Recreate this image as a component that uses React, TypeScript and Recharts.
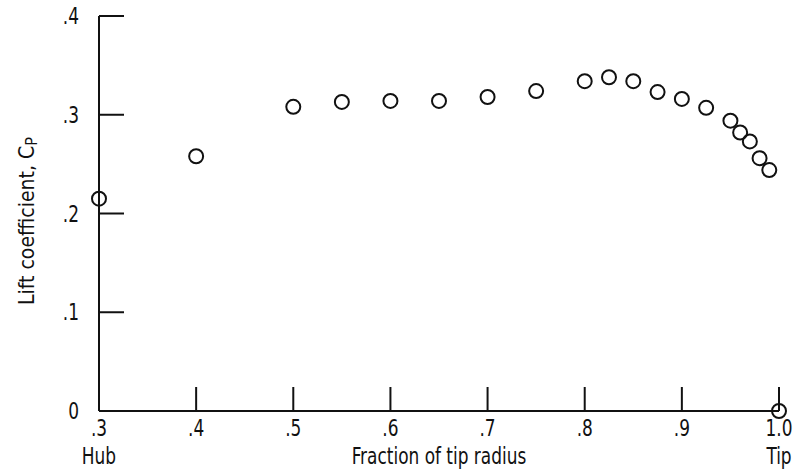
import { ScatterChart, Scatter, XAxis, YAxis, Label } from 'recharts';

// Lift coefficient along the blade span
const fractionOfTipRadius = [0.3, 0.4, 0.5, 0.55, 0.6, 0.65, 0.7, 0.75, 0.8, 0.825, 0.85, 0.875, 0.9, 0.925, 0.95, 0.96, 0.97, 0.98, 0.99, 1.0];
const liftCoefficient = [0.215, 0.258, 0.308, 0.313, 0.314, 0.314, 0.318, 0.324, 0.334, 0.338, 0.334, 0.323, 0.316, 0.307, 0.294, 0.282, 0.273, 0.256, 0.244, 0];

const xTicks = [0.3, 0.4, 0.5, 0.6, 0.7, 0.8, 0.9, 1.0];
const xTickLabels = ['.3', '.4', '.5', '.6', '.7', '.8', '.9', '1.0'];
const xTickSubLabels = ['Hub', '', '', '', '', '', '', 'Tip'];
const yTicks = [0, 0.1, 0.2, 0.3, 0.4];
const yTickLabels = ['0', '.1', '.2', '.3', '.4'];

const FONT = '"DejaVu Sans Condensed", "Liberation Sans Narrow", sans-serif';
const INK = '#111';

const chartData = fractionOfTipRadius.map((r, i) => ({ r, cl: liftCoefficient[i] }));

// narrow, tall lettering like the original typeset figure
const NarrowText = ({ x, y, anchor = 'middle', children }: any) => (
  <text
    transform={`translate(${x}, ${y}) scale(0.82, 1)`}
    x={0}
    y={0}
    textAnchor={anchor}
    fontFamily={FONT}
    fontSize={23}
    fill={INK}
  >
    {children}
  </text>
);

const YTick = ({ x, y, payload }: any) => {
  const i = yTicks.indexOf(payload.value);
  return (
    <g>
      {payload.value !== 0 && (
        <line x1={x} y1={y} x2={x + 25} y2={y} stroke={INK} strokeWidth={2} />
      )}
      <NarrowText x={x - 20} y={y + 8} anchor="end">
        {yTickLabels[i]}
      </NarrowText>
    </g>
  );
};

const XTick = ({ x, y, payload }: any) => {
  const i = xTicks.indexOf(payload.value);
  return (
    <g>
      {i > 0 && <line x1={x} y1={y} x2={x} y2={y - 24} stroke={INK} strokeWidth={2} />}
      <NarrowText x={x} y={y + 25}>{xTickLabels[i]}</NarrowText>
      {xTickSubLabels[i] && <NarrowText x={x} y={y + 53}>{xTickSubLabels[i]}</NarrowText>}
    </g>
  );
};

const YLabel = ({ viewBox }: any) => {
  const cx = viewBox.x + 34;
  const cy = viewBox.y + viewBox.height - 106;
  return (
    <text
      x={cx}
      y={cy}
      transform={`rotate(-90, ${cx}, ${cy})`}
      textAnchor="start"
      fontFamily={FONT}
      fontSize={21}
      fill={INK}
    >
      Lift coefficient, C
      <tspan fontSize={16} dy={3}>P</tspan>
    </text>
  );
};

const XLabel = ({ viewBox }: any) => (
  <NarrowText x={viewBox.x + viewBox.width / 2} y={viewBox.y + 53}>
    Fraction of tip radius
  </NarrowText>
);

export default function App() {
  return (
    <div style={{ position: 'absolute', left: 0, top: 0, background: '#fff' }}>
      <ScatterChart width={796} height={472} margin={{ top: 16, right: 17, bottom: 0, left: 0 }}>
        <XAxis
          type="number"
          dataKey="r"
          domain={[0.3, 1.0]}
          ticks={xTicks}
          interval={0}
          height={61}
          tickSize={0}
          tickMargin={0}
          tickLine={false}
          axisLine={{ stroke: INK, strokeWidth: 2 }}
          tick={<XTick />}
        >
          <Label content={<XLabel />} />
        </XAxis>
        <YAxis
          type="number"
          dataKey="cl"
          domain={[0, 0.4]}
          ticks={yTicks}
          interval={0}
          width={99}
          tickSize={0}
          tickMargin={0}
          tickLine={false}
          axisLine={{ stroke: INK, strokeWidth: 2 }}
          tick={<YTick />}
        >
          <Label content={<YLabel />} />
        </YAxis>
        <Scatter
          data={chartData}
          fill="none"
          stroke={INK}
          strokeWidth={2}
          isAnimationActive={false}
          shape={(p: any) => (
            <circle cx={p.cx} cy={p.cy} r={7} fill="none" stroke={INK} strokeWidth={2} />
          )}
        />
      </ScatterChart>
    </div>
  );
}
